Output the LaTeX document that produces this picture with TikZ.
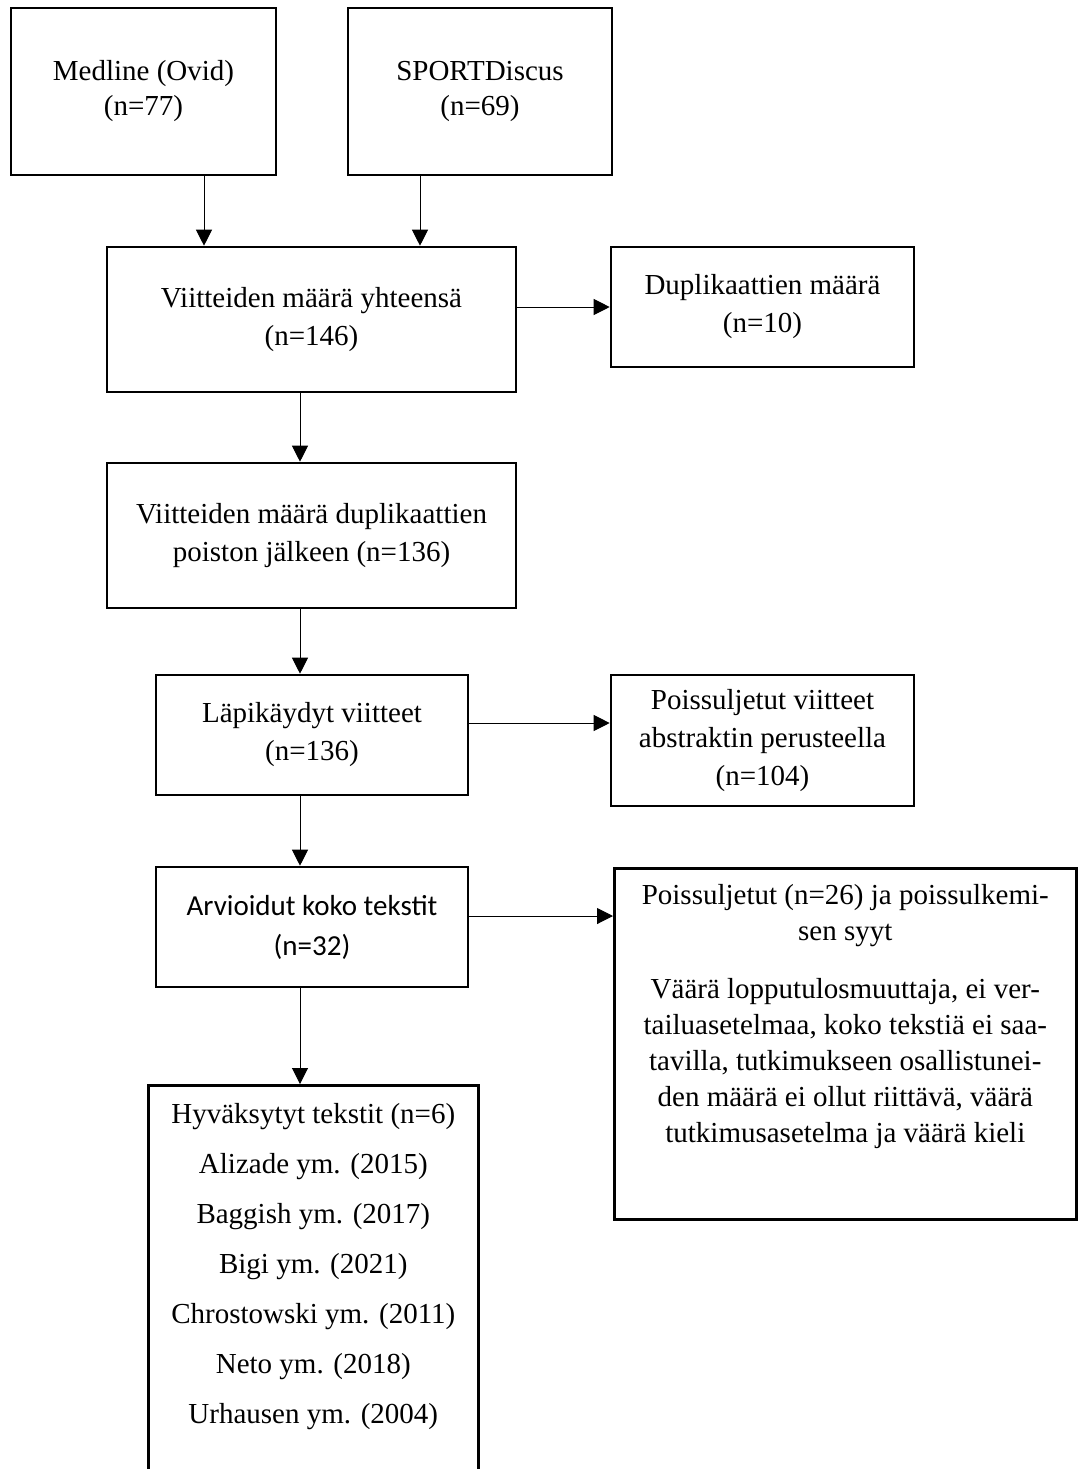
\documentclass[tikz,border=0pt]{standalone}
\usepackage{fontspec}
\setmainfont{Liberation Serif}
\newfontfamily\calibri{Carlito}
\usetikzlibrary{arrows.meta}

\tikzset{
  box/.style={draw, line width=1.3pt, align=center, inner sep=2pt, font=\fontsize{14.5}{19}\selectfont},
  arr/.style={line width=0.5pt, -{Triangle[length=8pt,width=8pt]}}
}

\begin{document}
\begin{tikzpicture}[x=0.5pt, y=-0.5pt]
\clip (0,0) rectangle (1081,1469);

\node[box, minimum width=132.5pt, minimum height=83.5pt, font=\fontsize{14.5}{17.5}\selectfont] (med) at (143.5,91.5) {Medline (Ovid)\\(n=77)};
\node[box, minimum width=132pt, minimum height=83.5pt, font=\fontsize{14.5}{17.5}\selectfont] (sport) at (480,91.5) {SPORTDiscus\\(n=69)};

\node[box, minimum width=204.5pt, minimum height=72.5pt] (tot) at (311.5,319.5) {Viitteiden määrä yhteensä\\(n=146)};
\node[box, minimum width=151.5pt, minimum height=60pt] (dup) at (762.5,307) {Duplikaattien määrä\\(n=10)};

\node[box, minimum width=204.5pt, minimum height=72.5pt] (ad) at (311.5,535.5) {Viitteiden määrä duplikaattien\\poiston jälkeen (n=136)};

\node[box, minimum width=156pt, minimum height=60pt] (lp) at (312,735) {Läpikäydyt viitteet\\(n=136)};
\node[box, minimum width=151.5pt, minimum height=65.5pt] (ex1) at (762.5,740.5) {Poissuljetut viitteet\\abstraktin perusteella\\(n=104)};

\node[box, minimum width=156pt, minimum height=60pt, font=\calibri\fontsize{14.5}{20}\selectfont] (full) at (312,927) {Arvioidut koko tekstit\\(n=32)};
\node[box, inner sep=0pt, anchor=north west, font=\fontsize{14.5}{18}\selectfont] (ex2) at (613,867) {\parbox[t][175.5pt][t]{231pt}{\centering\vspace*{8pt}
Poissuljetut (n=26) ja poissulkemi-\\sen syyt\\[11pt]
Väärä lopputulosmuuttaja, ei ver-\\tailuasetelmaa, koko tekstiä ei saa-\\tavilla, tutkimukseen osallistunei-\\den määrä ei ollut riittävä, väärä\\tutkimusasetelma ja väärä kieli}};

\node[box, inner sep=0pt, anchor=north west, font=\fontsize{14.5}{25}\selectfont] (incl) at (147,1084) {\parbox[t][220pt][t]{165pt}{\centering\vspace*{9pt}
Hyväksytyt tekstit (n=6)\\Alizade ym. (2015)\\Baggish ym. (2017)\\Bigi ym. (2021)\\Chrostowski ym. (2011)\\Neto ym. (2018)\\Urhausen ym. (2004)}};

\coordinate (a1) at (204,0);
\coordinate (a2) at (420,0);
\coordinate (spine) at (300,0);

\draw[arr] (med.south -| a1) -- (tot.north -| a1);
\draw[arr] (sport.south -| a2) -- (tot.north -| a2);
\draw[arr] (tot.south -| spine) -- (ad.north -| spine);
\draw[arr] (ad.south -| spine) -- (lp.north -| spine);
\draw[arr] (lp.south -| spine) -- (full.north -| spine);
\draw[arr] (full.south -| spine) -- (incl.north -| spine);

\draw[arr] (dup.west -| tot.east) -- (dup.west);
\draw[arr] ([yshift=6pt]lp.east) -- ([yshift=6pt]lp.east -| ex1.west);
\draw[arr] ([yshift=5.5pt]full.east) -- ([yshift=5.5pt]full.east -| ex2.west);
\end{tikzpicture}
\end{document}
